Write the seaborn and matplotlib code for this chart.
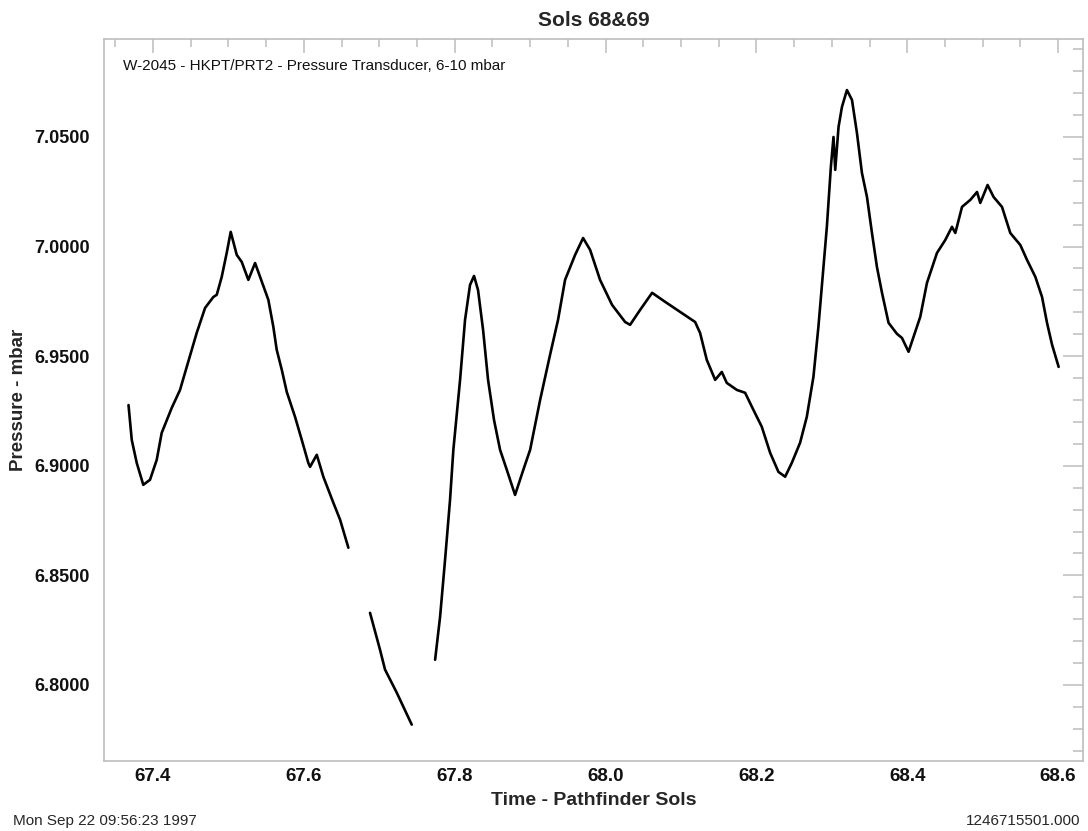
import numpy as np
import pandas as pd
import matplotlib
matplotlib.use("Agg")
import matplotlib.pyplot as plt
import seaborn as sns
from matplotlib.ticker import MultipleLocator, FormatStrFormatter

# ---- data (Pathfinder sol, pressure mbar) ----
seg1_time = [67.3675, 67.3718, 67.3784, 67.3871, 67.3960, 67.4049, 67.4115, 67.4248,
             67.4358, 67.4447, 67.4579, 67.4690, 67.4800, 67.4845, 67.4911, 67.4977,
             67.5030, 67.5110, 67.5176, 67.5264, 67.5353, 67.5419, 67.5529, 67.5595,
             67.5640, 67.5707, 67.5773, 67.5883, 67.5972, 67.6059, 67.6082, 67.6171,
             67.6258, 67.6391, 67.6480, 67.6590]
seg1_pres = [6.9277, 6.9118, 6.9013, 6.8913, 6.8936, 6.9027, 6.9150, 6.9264,
             6.9346, 6.9451, 6.9606, 6.9720, 6.9770, 6.9780, 6.9862, 6.9971,
             7.0067, 6.9962, 6.9930, 6.9848, 6.9925, 6.9862, 6.9757, 6.9634,
             6.9529, 6.9438, 6.9337, 6.9223, 6.9118, 6.9013, 6.8995, 6.9050,
             6.8950, 6.8831, 6.8754, 6.8626]

seg2_time = [67.6877, 67.7010, 67.7076, 67.7231, 67.7430]
seg2_pres = [6.8329, 6.8160, 6.8070, 6.7965, 6.7819]

seg3_time = [67.7740, 67.7806, 67.7872, 67.7938, 67.7982, 67.8071, 67.8137, 67.8203,
             67.8256, 67.8309, 67.8376, 67.8442, 67.8521, 67.8601, 67.8690, 67.8800,
             67.8910, 67.9000, 67.9132, 67.9264, 67.9370, 67.9463, 67.9596, 67.9702,
             67.9795, 67.9927, 68.0086, 68.0259, 68.0325, 68.0458, 68.0617, 68.0789,
             68.0988, 68.1187, 68.1253, 68.1342, 68.1453, 68.1541, 68.1607, 68.1740,
             68.1850, 68.1960, 68.2071, 68.2182, 68.2292, 68.2381, 68.2469, 68.2579,
             68.2668, 68.2756, 68.2822, 68.2889, 68.2934, 68.2987, 68.3022, 68.3045,
             68.3089, 68.3134, 68.3200, 68.3267, 68.3333, 68.3399, 68.3466, 68.3532,
             68.3598, 68.3665, 68.3752, 68.3863, 68.3930, 68.4017, 68.4083, 68.4172,
             68.4261, 68.4394, 68.4504, 68.4593, 68.4637, 68.4726, 68.4836, 68.4925,
             68.4968, 68.5065, 68.5145, 68.5256, 68.5366, 68.5499, 68.5588, 68.5698,
             68.5787, 68.5853, 68.5920, 68.6007]
seg3_pres = [6.8115, 6.8311, 6.8571, 6.8845, 6.9073, 6.9392, 6.9666, 6.9825,
             6.9866, 6.9802, 6.9620, 6.9392, 6.9209, 6.9073, 6.8982, 6.8867,
             6.8982, 6.9073, 6.9300, 6.9506, 6.9666, 6.9848, 6.9962, 7.0039,
             6.9985, 6.9848, 6.9734, 6.9656, 6.9643, 6.9711, 6.9789, 6.9748,
             6.9702, 6.9656, 6.9606, 6.9483, 6.9392, 6.9428, 6.9378, 6.9346,
             6.9333, 6.9255, 6.9178, 6.9059, 6.8972, 6.8950, 6.9013, 6.9105,
             6.9223, 6.9406, 6.9634, 6.9907, 7.0090, 7.0363, 7.0500, 7.0350,
             7.0546, 7.0637, 7.0714, 7.0669, 7.0518, 7.0336, 7.0226, 7.0062,
             6.9907, 6.9789, 6.9652, 6.9602, 6.9583, 6.9520, 6.9588, 6.9679,
             6.9834, 6.9971, 7.0030, 7.0090, 7.0062, 7.0181, 7.0213, 7.0249,
             7.0199, 7.0281, 7.0226, 7.0181, 7.0062, 7.0007, 6.9939, 6.9862,
             6.9770, 6.9652, 6.9552, 6.9451]

x_ticks = [67.4, 67.6, 67.8, 68.0, 68.2, 68.4, 68.6]
y_ticks = [6.80, 6.85, 6.90, 6.95, 7.00, 7.05]

title = "Sols 68&69"
note = "W-2045 - HKPT/PRT2 - Pressure Transducer, 6-10 mbar"
xlabel = "Time - Pathfinder Sols"
ylabel = "Pressure - mbar"
stamp_left = "Mon Sep 22 09:56:23 1997"
stamp_right = "1246715501.000"

# ---- build frame ----
df = pd.concat([
    pd.DataFrame({"time": seg1_time, "pressure": seg1_pres, "seg": 1}),
    pd.DataFrame({"time": seg2_time, "pressure": seg2_pres, "seg": 2}),
    pd.DataFrame({"time": seg3_time, "pressure": seg3_pres, "seg": 3}),
], ignore_index=True)

sns.set_style("white")
plt.rcParams["font.family"] = ["Liberation Sans", "DejaVu Sans"]

fig = plt.figure(figsize=(10.88, 8.31), dpi=100)
ax = fig.add_axes([104 / 1088, 1 - 761 / 831, 979 / 1088, 722 / 831])

sns.lineplot(data=df, x="time", y="pressure", units="seg", estimator=None,
             sort=False, color="black", linewidth=1.9, ax=ax, legend=False)

ax.set_xlim(67.335, 68.633)
ax.set_ylim(6.7653, 7.0947)

ax.set_xticks(x_ticks)
ax.set_yticks(y_ticks)
ax.xaxis.set_minor_locator(MultipleLocator(0.05))
ax.yaxis.set_minor_locator(MultipleLocator(0.01))
ax.xaxis.set_major_formatter(FormatStrFormatter("%.1f"))
ax.yaxis.set_major_formatter(FormatStrFormatter("%.4f"))

frame_col = "#bdbdbd"
for sp in ax.spines.values():
    sp.set_color(frame_col)
    sp.set_linewidth(1.2)
    sp.set_visible(True)

ax.tick_params(axis="both", which="both", direction="in", color=frame_col,
               width=1.1, top=True, right=True, labelcolor="#111111")
ax.tick_params(axis="x", which="major", length=10, labelsize=13.5, pad=5)
ax.tick_params(axis="x", which="minor", length=5.5)
ax.tick_params(axis="y", which="major", length=14.5, labelsize=13, pad=10)
ax.tick_params(axis="y", which="minor", length=7)
for lab in ax.get_xticklabels() + ax.get_yticklabels():
    lab.set_fontweight("bold")

ax.set_title(title, fontsize=15, fontweight="bold", pad=9)
ax.set_xlabel(xlabel, fontsize=14, fontweight="bold")
ax.set_ylabel(ylabel, fontsize=13.5, fontweight="bold")
ax.xaxis.set_label_coords(0.5, -0.043)
ax.yaxis.set_label_coords(-0.079, 0.5)

ax.text(0.0194, 0.9626, note, transform=ax.transAxes, fontsize=11,
        ha="left", va="center", color="#111111")

fig.text(13 / 1088, 1 - 821 / 831, stamp_left, fontsize=11, ha="left", va="center")
fig.text(1080 / 1088, 1 - 821 / 831, stamp_right, fontsize=11, ha="right", va="center")

fig.savefig("out.png", dpi=100, facecolor="white")
